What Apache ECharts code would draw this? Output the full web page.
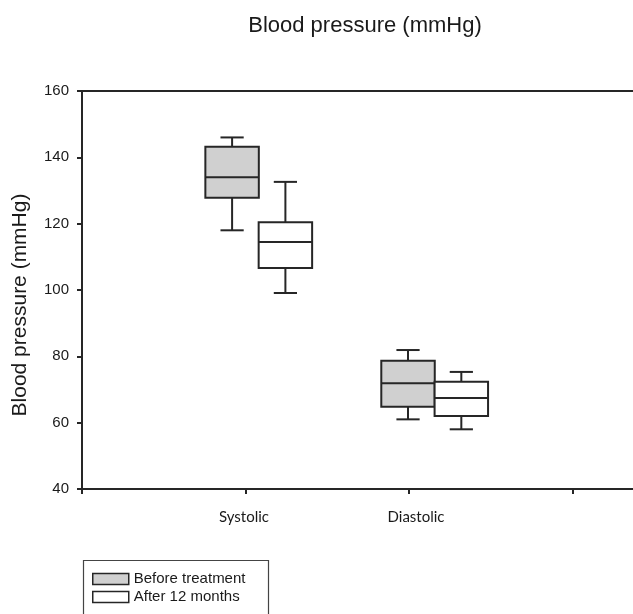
<!DOCTYPE html>
<html>
<head>
<meta charset="utf-8">
<script src="https://cdn.jsdelivr.net/npm/echarts@6/dist/echarts.min.js"></script>
<style>
html,body{margin:0;padding:0;background:#fff;}
#chart{width:633px;height:614px;}
</style>
</head>
<body>
<div id="chart"></div>
<script>
// ---- data ----
const categories = ['Systolic', 'Diastolic'];
const seriesNames = ['Before treatment', 'After 12 months'];
// [lower whisker, Q1, median, Q3, upper whisker]
const beforeStats = [
  [118.0, 127.8, 134.0, 143.2, 146.0],
  [61.0, 64.8, 71.9, 78.7, 81.9]
];
const afterStats = [
  [99.1, 106.6, 114.5, 120.4, 132.6],
  [58.0, 62.0, 67.4, 72.3, 75.3]
];
const yTicks = [40, 60, 80, 100, 120, 140, 160];

// ---- layout constants (not data) ----
const groupCenter = [1.081, 2.157];
const offset = 0.163;
const boxW = 0.327;
const capW = 0.142;
const fills = ['#d0d0d0', '#ffffff'];
const stroke = '#262626';

function buildData(stats, sign) {
  return stats.map((s, i) => [groupCenter[i] + sign * offset].concat(s));
}

function renderBox(fill) {
  return function (params, api) {
    const x = api.value(0);
    const lo = api.coord([x, api.value(1)]);
    const q1 = api.coord([x, api.value(2)]);
    const md = api.coord([x, api.value(3)]);
    const q3 = api.coord([x, api.value(4)]);
    const hi = api.coord([x, api.value(5)]);
    const left = api.coord([x - boxW / 2, 0])[0];
    const right = api.coord([x + boxW / 2, 0])[0];
    const cl = api.coord([x - capW / 2, 0])[0];
    const cr = api.coord([x + capW / 2, 0])[0];
    const cx = lo[0];
    const ls = {stroke: stroke, lineWidth: 2};
    return {
      type: 'group',
      children: [
        {type: 'line', shape: {x1: cx, y1: q3[1], x2: cx, y2: hi[1]}, style: ls},
        {type: 'line', shape: {x1: cx, y1: q1[1], x2: cx, y2: lo[1]}, style: ls},
        {type: 'line', shape: {x1: cl, y1: hi[1], x2: cr, y2: hi[1]}, style: ls},
        {type: 'line', shape: {x1: cl, y1: lo[1], x2: cr, y2: lo[1]}, style: ls},
        {type: 'rect', shape: {x: left, y: q3[1], width: right - left, height: q1[1] - q3[1]},
          style: {fill: fill, stroke: stroke, lineWidth: 2}},
        {type: 'line', shape: {x1: left, y1: md[1], x2: right, y2: md[1]}, style: ls}
      ]
    };
  };
}

const chart = echarts.init(document.getElementById('chart'), null, {renderer: 'canvas'});
chart.setOption({
  animation: false,
  backgroundColor: '#fff',
  title: {
    text: 'Blood pressure (mmHg)',
    left: 360, top: 10, textAlign: 'center',
    textStyle: {fontFamily: 'Liberation Sans, Arial, sans-serif', fontSize: 22, fontWeight: 'normal', color: '#1a1a1a'}
  },
  grid: {left: 82, top: 91, right: 0, bottom: 125},
  xAxis: [{
    type: 'value', min: 0, max: 3.37,
    splitLine: {show: false},
    axisLine: {show: true, lineStyle: {color: '#262626', width: 2}},
    axisTick: {show: true, length: 5, customValues: [0, 1, 2, 3], lineStyle: {color: '#262626', width: 2}},
    axisLabel: {
      margin: 21, customValues: [1, 2],
      fontFamily: 'Lato, Open Sans, sans-serif', fontSize: 15, color: '#1a1a1a',
      formatter: function (v) {
        const i = Math.round(v) - 1;
        return i === 1 ? '{d|' + categories[i] + '}' : '{s|' + categories[i] + '}';
      },
      rich: {
        s: {fontFamily: 'Lato, Open Sans, sans-serif', fontSize: 15, color: '#1a1a1a', padding: [0, 3, 0, 0]},
        d: {fontFamily: 'Lato, Open Sans, sans-serif', fontSize: 15, color: '#1a1a1a', padding: [0, 0, 0, 14]}
      }
    }
  }, {
    type: 'value', position: 'top', min: 0, max: 3.37,
    splitLine: {show: false}, axisTick: {show: false}, axisLabel: {show: false},
    axisLine: {show: true, lineStyle: {color: '#262626', width: 2}}
  }],
  yAxis: {
    type: 'value', min: 40, max: 160, interval: 20,
    splitLine: {show: false},
    axisLine: {show: true, lineStyle: {color: '#262626', width: 2}},
    axisTick: {show: true, length: 5, lineStyle: {color: '#262626', width: 2}},
    axisLabel: {
      margin: 13, fontFamily: 'Liberation Sans, Arial, sans-serif', fontSize: 15, color: '#1a1a1a',
      formatter: function (v) { return yTicks.indexOf(v) >= 0 ? String(v) : ''; }
    }
  },
  legend: {
    orient: 'vertical', left: 92, top: 571, itemGap: 2, padding: 0,
    itemWidth: 36, itemHeight: 11,
    textStyle: {fontFamily: 'Liberation Sans, Arial, sans-serif', fontSize: 15, lineHeight: 16, color: '#1a1a1a'},
    data: [
      {name: seriesNames[0], icon: 'rect', itemStyle: {color: fills[0], borderColor: stroke, borderWidth: 1.5}},
      {name: seriesNames[1], icon: 'rect', itemStyle: {color: fills[1], borderColor: stroke, borderWidth: 1.5}}
    ]
  },
  graphic: [{
    type: 'rect', left: 81, top: 558, shape: {width: 185, height: 70},
    style: {fill: 'none', stroke: '#444', lineWidth: 1.2}, z: -1
  }, {
    type: 'text', x: 20, y: 305, rotation: Math.PI / 2,
    style: {
      text: 'Blood pressure (mmHg)', fontFamily: 'Liberation Sans, Arial, sans-serif', fontSize: 21,
      fill: '#1a1a1a', align: 'center', verticalAlign: 'middle'
    }
  }],
  series: [
    {name: seriesNames[0], type: 'custom', renderItem: renderBox(fills[0]),
      itemStyle: {color: fills[0]}, encode: {x: 0, y: [1, 2, 3, 4, 5]}, data: buildData(beforeStats, -1)},
    {name: seriesNames[1], type: 'custom', renderItem: renderBox(fills[1]),
      itemStyle: {color: fills[1]}, encode: {x: 0, y: [1, 2, 3, 4, 5]}, data: buildData(afterStats, 1)}
  ]
});
</script>
</body>
</html>
